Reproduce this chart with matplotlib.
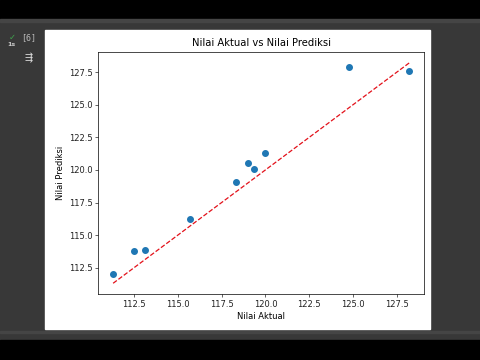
import numpy as np
import matplotlib
matplotlib.use("Agg")
import matplotlib.pyplot as plt
from matplotlib.patches import Rectangle

# nilai hasil baca dari grafik
nilai_aktual = [111.3, 112.5, 113.1, 115.7, 118.3, 119.0, 119.35, 120.0, 124.75, 128.23]
nilai_prediksi = [112.0, 113.8, 113.85, 116.25, 119.1, 120.5, 120.05, 121.3, 127.9, 127.6]

fig = plt.figure(figsize=(4.8, 3.6), dpi=100)
fig.patch.set_facecolor('#383838')

# latar notebook: pita hitam atas & bawah, area output putih
fig.patches.append(Rectangle((0, 1 - 19 / 360), 1, 19 / 360, transform=fig.transFigure,
                             color='black', zorder=0))
fig.patches.append(Rectangle((0, 0), 1, 20 / 360, transform=fig.transFigure,
                             color='black', zorder=0))
fig.patches.append(Rectangle((0, 1 - 22 / 360), 1, 3 / 360, transform=fig.transFigure,
                             color='#454545', zorder=0))
fig.patches.append(Rectangle((0, 1 - 333 / 360), 1, 2 / 360, transform=fig.transFigure,
                             color='#454545', zorder=0))
fig.patches.append(Rectangle((45 / 480, 1 - 329 / 360), 385 / 480, 299 / 360,
                             transform=fig.transFigure, color='white', zorder=1))

fig.text(0.018, 1 - 37 / 360, '✓', color='#3fa34d', fontsize=6, ha='left', va='center')
fig.text(0.016, 1 - 44 / 360, '1s', color='#cccccc', fontsize=4.5, ha='left', va='center',
         fontweight='bold')
fig.text(0.059, 1 - 38 / 360, '[6]', color='#bbbbbb', fontsize=6, ha='center', va='center',
         family='DejaVu Sans Mono')
fig.text(0.059, 1 - 58 / 360, '⇶', color='#dddddd', fontsize=7, ha='center', va='center')

ax = fig.add_axes([98.3 / 480, 1 - 294.3 / 360, 326 / 480, 242.6 / 360])
ax.set_zorder(2)

ax.scatter(nilai_aktual, nilai_prediksi, s=16, color='#1f77b4', zorder=3)
lo, hi = min(nilai_aktual), max(nilai_aktual)
ax.plot([lo, hi], [lo, hi], '--', color='#e3111a', lw=0.9)

ax.set_xticks([112.5, 115.0, 117.5, 120.0, 122.5, 125.0, 127.5])
ax.set_yticks([112.5, 115.0, 117.5, 120.0, 122.5, 125.0, 127.5])
ax.tick_params(labelsize=6, length=2.1, width=0.5, pad=2, colors='#222222')
for s in ax.spines.values():
    s.set_linewidth(0.5)

ax.set_title('Nilai Aktual vs Nilai Prediksi', fontsize=7.2, pad=4)
ax.set_xlabel('Nilai Aktual', fontsize=6, labelpad=2)
ax.set_ylabel('Nilai Prediksi', fontsize=6, labelpad=3)

fig.savefig('out.png', dpi=100, facecolor=fig.get_facecolor())
